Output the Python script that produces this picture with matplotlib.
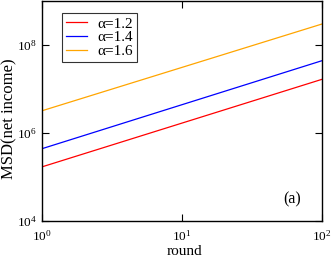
import matplotlib
matplotlib.use("Agg")
import matplotlib.pyplot as plt
from matplotlib.ticker import LogLocator, NullLocator

plt.rcParams['font.family'] = ['Liberation Serif', 'DejaVu Serif']
plt.rcParams['mathtext.fontset'] = 'stix'

rounds = [1, 100]
msd_12 = [1.7e5, 1.66e7]
msd_14 = [4.4e5, 4.4e7]
msd_16 = [3.2e6, 3.0e8]
labels = ['α=1.2', 'α=1.4', 'α=1.6']
colors = ['#ff0000', '#0000ff', '#ffa500']

W, H = 332, 257
fig = plt.figure(figsize=(W/100, H/100), dpi=100)
ax = fig.add_axes([42/W, 1 - 221/H, 280/W, 220/H])
for y, lab, c in zip([msd_12, msd_14, msd_16], labels, colors):
    ax.plot(rounds, y, color=c, lw=0.9, label=lab)
ax.set_xscale('log')
ax.set_yscale('log')
ax.set_xlim(1, 100)
ax.set_ylim(1e4, 1e9)
ax.yaxis.set_major_locator(LogLocator(base=100))
ax.yaxis.set_minor_locator(NullLocator())
ax.xaxis.set_minor_locator(NullLocator())
ax.tick_params(direction='in', which='both', top=True, right=True, labelsize=9.5, length=5, width=0.8)
ax.tick_params(axis='x', pad=6)
ax.tick_params(axis='y', pad=4)
for s in ax.spines.values():
    s.set_linewidth(1.0)
fig.text(184.5/W, 2/H, 'round', fontsize=11, ha='center', va='baseline')
fig.text(9/W, 1 - 118.5/H, 'MSD(net income)', fontsize=12, rotation=90, ha='center', va='center')
ax.text(0.893, 0.10, '(a)', transform=ax.transAxes, fontsize=11.5, ha='center', va='center')
leg = ax.legend(loc='upper left', bbox_to_anchor=(0.071, 0.945), fontsize=11, frameon=True,
                fancybox=False, edgecolor='black', handlelength=1.4, handletextpad=0.7,
                borderpad=0.25, labelspacing=0.0, borderaxespad=0)
leg.get_frame().set_linewidth(0.8)
fig.savefig('out.png', dpi=100)
